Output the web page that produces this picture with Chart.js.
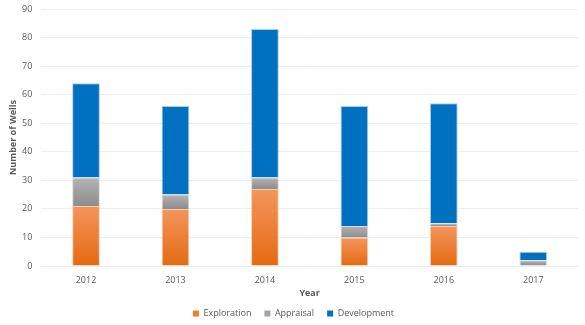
<!DOCTYPE html>
<html lang="en">
<head>
  <meta charset="UTF-8">
  <title>Number of Wells by Year</title>
  <style>
    body { margin: 0; background: #fff; }
    .chart-box { width: 585px; height: 325px; position: relative; }
  </style>
  <script src="https://cdn.jsdelivr.net/npm/chart.js"></script>
</head>
<body>
  <div class="chart-box"><canvas id="wells"></canvas></div>
  <script>
    const years = ['2012', '2013', '2014', '2015', '2016', '2017'];
    const exploration = [21, 20, 27, 10, 14, 0];
    const appraisal = [10, 5, 4, 4, 1, 2];
    const development = [33, 31, 52, 42, 42, 3];
    const yTicks = [0, 10, 20, 30, 40, 50, 60, 70, 80, 90];

    const series = [exploration, appraisal, development];

    // gradient for each stacked segment, top lighter than bottom
    function segmentFill(dsIndex, top, bottom) {
      return function (ctx) {
        const chart = ctx.chart;
        const y = chart.scales.y;
        if (!y || ctx.dataIndex === undefined) return top;
        let base = 0;
        for (let i = 0; i < dsIndex; i++) base += series[i][ctx.dataIndex];
        const end = base + series[dsIndex][ctx.dataIndex];
        const y0 = y.getPixelForValue(base);
        const y1 = y.getPixelForValue(end);
        if (!isFinite(y0) || !isFinite(y1) || y0 === y1) return top;
        const g = chart.ctx.createLinearGradient(0, y1, 0, y0);
        g.addColorStop(0, top);
        g.addColorStop(1, bottom);
        return g;
      };
    }

    const font = { family: "'Open Sans', sans-serif", size: 9, lineHeight: 1 };
    const boldFont = { family: "'Open Sans', sans-serif", size: 9, weight: 'bold', lineHeight: 1 };

    new Chart(document.getElementById('wells'), {
      type: 'bar',
      data: {
        labels: years,
        datasets: [
          {
            label: 'Exploration',
            data: exploration,
            backgroundColor: segmentFill(0, '#F4955C', '#E46A12'),
            borderColor: 'rgba(240,200,180,0.9)',
            borderWidth: { top: 1, left: 1, right: 1, bottom: 0 },
            borderSkipped: false,
            categoryPercentage: 1,
            barPercentage: 0.31
          },
          {
            label: 'Appraisal',
            data: appraisal,
            backgroundColor: segmentFill(1, '#B4B4B4', '#8C8C8C'),
            borderColor: 'rgba(215,215,220,0.9)',
            borderWidth: { top: 1, left: 1, right: 1, bottom: 0 },
            borderSkipped: false,
            categoryPercentage: 1,
            barPercentage: 0.31
          },
          {
            label: 'Development',
            data: development,
            backgroundColor: '#0070C0',
            borderColor: 'rgba(170,195,225,0.9)',
            borderWidth: { top: 1, left: 1, right: 1, bottom: 0 },
            borderSkipped: false,
            categoryPercentage: 1,
            barPercentage: 0.31
          }
        ]
      },
      options: {
        responsive: true,
        maintainAspectRatio: false,
        animation: false,
        layout: { padding: { left: 9, right: 7, top: 9, bottom: -3 } },
        plugins: {
          legend: {
            position: 'bottom',
            labels: {
              boxWidth: 6,
              boxHeight: 6,
              padding: 13,
              color: '#595959',
              font: font,
              generateLabels: function (chart) {
                const fills = ['#F07F2C', '#A5A5A5', '#0070C0'];
                return chart.data.datasets.map((ds, i) => ({
                  text: ds.label,
                  fillStyle: fills[i],
                  strokeStyle: fills[i],
                  lineWidth: 0,
                  fontColor: '#595959',
                  datasetIndex: i,
                  hidden: false
                }));
              }
            }
          },
          tooltip: { enabled: false }
        },
        scales: {
          x: {
            stacked: true,
            grid: { display: false, drawTicks: false },
            border: { display: false },
            ticks: { color: '#595959', font: font, padding: 10 },
            title: {
              display: true,
              text: 'Year',
              color: '#595959',
              font: boldFont,
              padding: { top: -6, bottom: -2 }
            }
          },
          y: {
            stacked: true,
            min: 0,
            max: 90,
            afterBuildTicks: function (axis) {
              axis.ticks = yTicks.map(v => ({ value: v }));
            },
            // tick padding should only space labels sideways, not push the plot top down
            afterFit: function (axis) {
              axis.paddingTop = 0;
              axis.paddingBottom = 0;
            },
            grid: { color: '#EEEEEE', drawTicks: false },
            border: { display: false },
            ticks: { color: '#595959', font: font, padding: 9 },
            title: {
              display: true,
              text: 'Number of Wells',
              color: '#595959',
              font: boldFont,
              padding: { top: 0, bottom: -5 }
            }
          }
        }
      }
    });
  </script>
</body>
</html>
